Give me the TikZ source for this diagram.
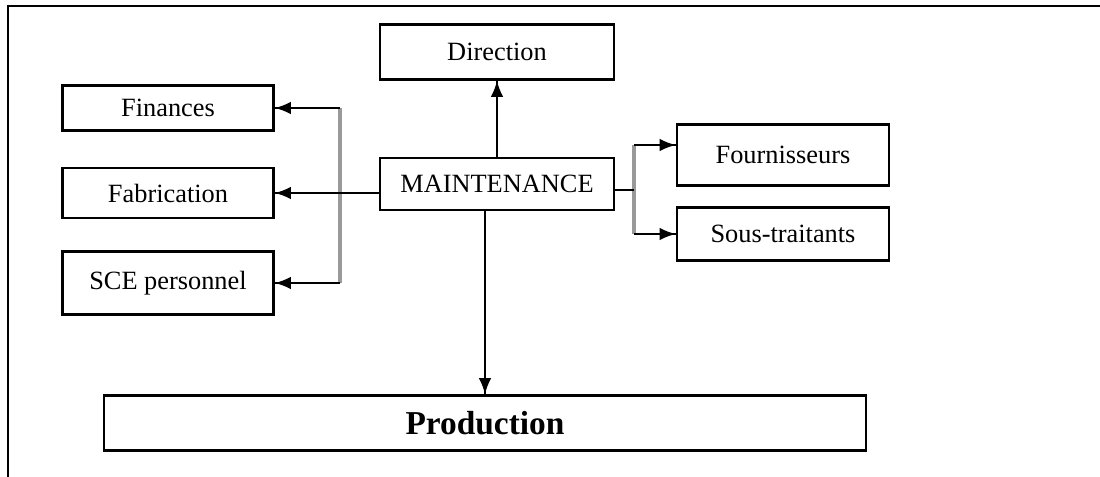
\documentclass[tikz,border=0pt]{standalone}
\usepackage{fontspec}
\setmainfont{Liberation Serif}
\tikzset{->/.style = {decoration={markings, mark=at position 1 with {\arrow[scale=1.7]{latex}}}, postaction={decorate}}}
\usetikzlibrary{calc,
                 decorations.markings}

\begin{document}
\begin{tikzpicture}[x=0.02cm, y=-0.02cm, line width=0.9pt,
    box/.style = {draw, line width=1.2pt, inner sep=0pt, font=\fontsize{15}{18}\selectfont},
    bus/.style = {draw=gray!80, line width=2.2pt}]
  \useasboundingbox (0,0) rectangle (1100,477);
  \draw [line width=1.2pt] (8,477) -- (8,6) -- (1100,6);
    % boxes
    \node[box, minimum width=4.68cm, minimum height=1.1cm] (dir) at (497,52) {Direction};
    \node[box, minimum width=4.22cm, minimum height=0.9cm] (fin) at (168,108) {Finances};
    \node[box, minimum width=4.22cm, minimum height=1cm] (fab) at (168,193) {Fabrication};
    \node[box, minimum width=4.22cm, minimum height=1.26cm] (sce) at (168,283) {SCE personnel};
    \node[box, minimum width=4.68cm, minimum height=1.04cm] (maint) at (497,184) {MAINTENANCE};
    \node[box, minimum width=4.24cm, minimum height=1.22cm] (fou) at (783,155) {Fournisseurs};
    \node[box, minimum width=4.24cm, minimum height=1.06cm] (sou) at (783,234) {Sous-traitants};
    \node[box, minimum width=15.26cm, minimum height=1.1cm, font=\fontsize{19}{22}\selectfont\bfseries] (prod) at (485,423) {Production};
    % links
    \coordinate (lbus) at (340,193);
    \coordinate (rbus) at (634,190);
    \coordinate (fouin) at ($(fou.west)+(0,-10)$);
    \draw [bus] (lbus |- fin.east) -- (lbus |- sce.east);
    \draw [bus] (rbus |- fouin) -- (rbus |- sou.west);
    \draw [->] (maint.north) -- (dir.south);
    \draw [->] (maint.south -| prod.north) -- (prod.north);
    \draw [->] (maint.west |- fab.east) -- (fab.east);
    \draw [->] (lbus |- fin.east) -- (fin.east);
    \draw [->] (lbus |- sce.east) -- (sce.east);
    \draw (maint.east |- rbus) -- (rbus);
    \draw [->] (rbus |- fouin) -- (fouin);
    \draw [->] (rbus |- sou.west) -- (sou.west);
\end{tikzpicture}
\end{document}
